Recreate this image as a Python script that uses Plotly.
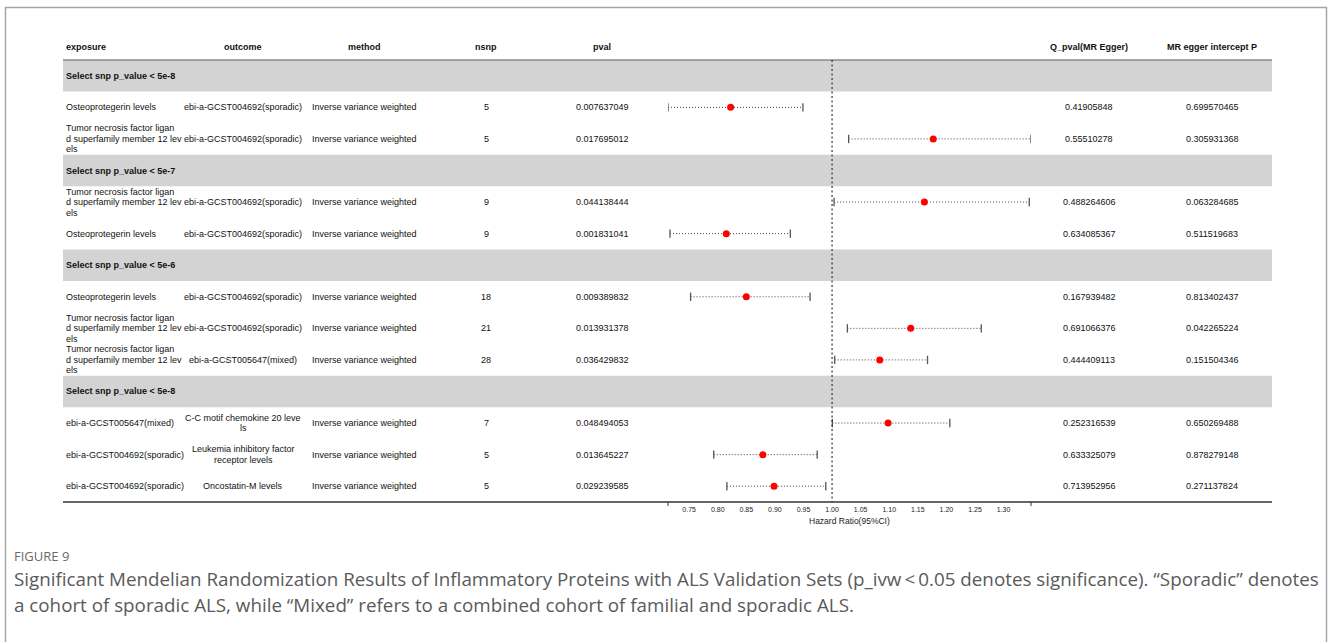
import plotly.graph_objects as go

W, H = 1330, 642

# ---------------- data ----------------
group_titles = ["Select snp p_value < 5e-8", "Select snp p_value < 5e-7",
                "Select snp p_value < 5e-6", "Select snp p_value < 5e-8"]
group_sizes = [2, 2, 3, 3]

TNF = "Tumor necrosis factor ligand superfamily member 12 levels"
SPO = "ebi-a-GCST004692(sporadic)"
MIX = "ebi-a-GCST005647(mixed)"

exposure = ["Osteoprotegerin levels", TNF, TNF, "Osteoprotegerin levels",
            "Osteoprotegerin levels", TNF, TNF, MIX, SPO, SPO]
outcome = [SPO, SPO, SPO, SPO, SPO, SPO, MIX,
           "C-C motif chemokine 20 levels",
           "Leukemia inhibitory factor receptor levels",
           "Oncostatin-M levels"]
method = ["Inverse variance weighted"] * 10
nsnp = [5, 5, 9, 9, 18, 21, 28, 7, 5, 5]
pval = ["0.007637049", "0.017695012", "0.044138444", "0.001831041", "0.009389832",
        "0.013931378", "0.036429832", "0.048494053", "0.013645227", "0.029239585"]
hr = [0.8225, 1.177, 1.1615, 0.815, 0.850, 1.1376, 1.0834, 1.098, 0.879, 0.8985]
ci_low = [0.713, 1.029, 1.0035, 0.7165, 0.7525, 1.0268, 1.0046, 1.0005, 0.793, 0.816]
ci_high = [0.949, 1.348, 1.345, 0.927, 0.9615, 1.261, 1.167, 1.206, 0.974, 0.989]
q_pval = ["0.41905848", "0.55510278", "0.488264606", "0.634085367", "0.167939482",
          "0.691066376", "0.444409113", "0.252316539", "0.633325079", "0.713952956"]
egger_p = ["0.699570465", "0.305931368", "0.063284685", "0.511519683", "0.813402437",
           "0.042265224", "0.151504346", "0.650269488", "0.878279148", "0.271137824"]
tick_vals = [0.75, 0.80, 0.85, 0.90, 0.95, 1.00, 1.05, 1.10, 1.15, 1.20, 1.25, 1.30]
headers = ["exposure", "outcome", "method", "nsnp", "pval", "Q_pval(MR Egger)", "MR egger intercept P"]
x_title = "Hazard Ratio(95%CI)"
ref_value = 1.0
fig_label = "FIGURE 9"
caption_lines = [
    "Significant Mendelian Randomization Results of Inflammatory Proteins with ALS Validation Sets "
    "(p_ivw\u2009<\u20090.05 denotes significance). \u201cSporadic\u201d denotes",
    "a cohort of sporadic ALS, while \u201cMixed\u201d refers to a combined cohort of familial and sporadic ALS.",
]

# ---------------- layout constants ----------------
FONT = "Liberation Sans, Arial, sans-serif"
FS = 9
TOP = 60.0          # header rule (px)
ROW_H = 31.57       # row height (px)
T_LEFT, T_RIGHT = 63, 1272
AX_LEFT, AX_RIGHT = 668, 1031
WRAP = 27
LINE_SP = 10.5

col_x = {"exposure": 64, "outcome": 243, "method": 364, "nsnp": 486, "pval": 602,
         "q": 1089, "egger": 1212}


def px(x):
    return x / W


def wrap(s):
    return [s[i:i + WRAP].strip() for i in range(0, len(s), WRAP)]


slot_of_row, band_slots = [], []
slot = 0
for g, n in zip(group_titles, group_sizes):
    band_slots.append(slot)
    slot += 1
    for _ in range(n):
        slot_of_row.append(slot)
        slot += 1
n_slots = slot
BOTTOM = TOP + n_slots * ROW_H


def yc(s):
    return TOP + (s + 0.5) * ROW_H


row_y = [yc(s) for s in slot_of_row]

fig = go.Figure()

lx, ly = [], []
for lo, hi, y in zip(ci_low, ci_high, row_y):
    lx += [lo, hi, None]
    ly += [y, y, None]
fig.add_trace(go.Scatter(x=lx, y=ly, mode="lines",
                         line=dict(color="#444444", width=1, dash="1px,2px"),
                         hoverinfo="skip", showlegend=False))
fig.add_trace(go.Scatter(x=ci_low + ci_high, y=row_y + row_y, mode="markers",
                         marker=dict(symbol="line-ns", size=6,
                                     line=dict(color="#555555", width=1.3)),
                         hoverinfo="skip", showlegend=False))
fig.add_trace(go.Scatter(x=hr, y=row_y, mode="markers",
                         marker=dict(color="#ff0000", size=7, line=dict(width=0)),
                         hoverinfo="skip", showlegend=False))

shapes = []
for s in band_slots:
    shapes.append(dict(type="rect", xref="paper", yref="y", x0=px(T_LEFT), x1=px(T_RIGHT),
                       y0=TOP + s * ROW_H, y1=TOP + (s + 1) * ROW_H,
                       fillcolor="#d3d3d3", line=dict(width=0), layer="below"))
shapes.append(dict(type="line", xref="paper", yref="y", x0=px(T_LEFT), x1=px(T_RIGHT),
                   y0=TOP, y1=TOP, line=dict(color="#8a8a8a", width=1.3)))
shapes.append(dict(type="line", xref="paper", yref="y", x0=px(T_LEFT), x1=px(T_RIGHT),
                   y0=BOTTOM, y1=BOTTOM, line=dict(color="#333333", width=1.3)))
shapes.append(dict(type="line", xref="x", yref="y", x0=ref_value, x1=ref_value,
                   y0=TOP, y1=BOTTOM, line=dict(color="#333333", width=1.2, dash="2px,2.5px")))
for d in (0, 1):
    shapes.append(dict(type="line", xref="x domain", yref="y", x0=d, x1=d,
                       y0=BOTTOM, y1=BOTTOM + 4, line=dict(color="#333333", width=1)))
shapes.append(dict(type="rect", xref="paper", yref="paper", x0=px(5.5), x1=px(1326.5),
                   y0=-0.1, y1=1 - 7.5 / H, line=dict(color="#a6a6a6", width=1.5),
                   fillcolor="rgba(0,0,0,0)"))

ann = []


def txt(x, y, s, align="center", bold=False, size=FS, color="#111111", family=FONT):
    ann.append(dict(x=px(x), y=y, xref="paper", yref="y", text=f"<b>{s}</b>" if bold else s,
                    showarrow=False, xanchor="left" if align == "left" else "center",
                    yanchor="middle", align=align,
                    font=dict(family=family, size=size, color=color)))


def multiline(x, y, s, align):
    lines = wrap(s)
    k = len(lines)
    for i, ln in enumerate(lines):
        txt(x, y + (i - (k - 1) / 2) * LINE_SP, ln, align=align)


HY = TOP - 13.5
txt(col_x["exposure"], HY, headers[0], "left", bold=True)
for key, h in zip(["outcome", "method", "nsnp", "pval", "q", "egger"], headers[1:]):
    txt(col_x[key], HY, h, bold=True)

for s, g in zip(band_slots, group_titles):
    txt(col_x["exposure"], yc(s), g, "left", bold=True)

for i, y in enumerate(row_y):
    multiline(col_x["exposure"], y, exposure[i], "left")
    multiline(col_x["outcome"], y, outcome[i], "center")
    multiline(col_x["method"], y, method[i], "center")
    txt(col_x["nsnp"], y, str(nsnp[i]))
    txt(col_x["pval"], y, pval[i])
    txt(col_x["q"], y, q_pval[i])
    txt(col_x["egger"], y, egger_p[i])

ann.append(dict(x=0.5, y=BOTTOM + 19, xref="x domain", yref="y", text=x_title, showarrow=False,
                xanchor="center", yanchor="middle", font=dict(family=FONT, size=8.5, color="#222222")))

CAP_FONT = "Open Sans, sans-serif"
ann.append(dict(x=px(12), y=1 - 555.5 / H, xref="paper", yref="paper", text=fig_label,
                showarrow=False, xanchor="left", yanchor="middle",
                font=dict(family=CAP_FONT, size=13, color="#6a6a6a")))
for i, ln in enumerate(caption_lines):
    ann.append(dict(x=px(12), y=1 - (578.5 + 26 * i) / H, xref="paper", yref="paper", text=ln,
                    showarrow=False, xanchor="left", yanchor="middle",
                    font=dict(family=CAP_FONT, size=18.8, color="#5a5a5a")))

fig.update_layout(
    width=W, height=H, margin=dict(l=0, r=0, t=0, b=0),
    paper_bgcolor="white", plot_bgcolor="rgba(0,0,0,0)",
    shapes=shapes, annotations=ann, showlegend=False, hovermode=False,
    xaxis=dict(domain=[px(AX_LEFT), px(AX_RIGHT)], range=[min(ci_low), max(ci_high)],
               anchor="free", position=1 - BOTTOM / H, showline=False, showgrid=False,
               zeroline=False, ticks="", tickvals=tick_vals,
               ticktext=[f"{v:.2f}" for v in tick_vals], ticklabelstandoff=2,
               tickfont=dict(family=FONT, size=7, color="#222222"), fixedrange=True),
    yaxis=dict(domain=[0, 1], range=[H, 0], visible=False, fixedrange=True),
)

fig.write_html("out.html", config={"displayModeBar": False, "staticPlot": True},
               post_script="document.body.style.margin='0';")
